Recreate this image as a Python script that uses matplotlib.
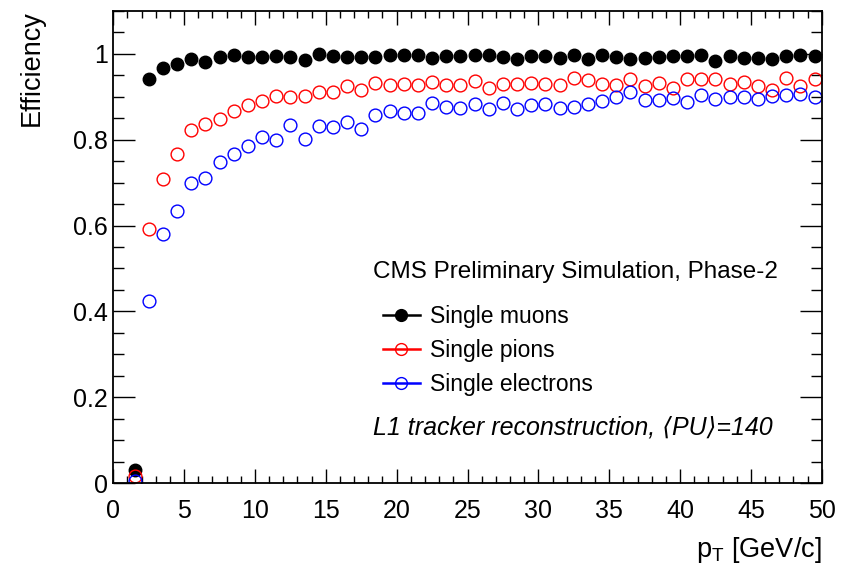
import numpy as np
import matplotlib
matplotlib.use('Agg')
import matplotlib.pyplot as plt
from matplotlib.lines import Line2D
from matplotlib.ticker import MultipleLocator

plt.rcParams['font.family'] = ['Liberation Sans', 'DejaVu Sans']
plt.rcParams['mathtext.default'] = 'regular'

# bin centres in pT [GeV/c]
pt = np.arange(1.5, 50, 1.0)

eff_muons = [0.030, 0.940, 0.967, 0.977, 0.988, 0.981, 0.992, 0.996, 0.992, 0.992,
             0.994, 0.992, 0.986, 1.000, 0.994, 0.992, 0.992, 0.992, 0.998, 0.996,
             0.996, 0.991, 0.994, 0.994, 0.996, 0.998, 0.992, 0.988, 0.994, 0.994,
             0.989, 0.996, 0.988, 0.996, 0.992, 0.988, 0.991, 0.992, 0.994, 0.994,
             0.996, 0.983, 0.994, 0.991, 0.991, 0.988, 0.994, 0.996, 0.994]
eff_pions = [0.018, 0.593, 0.708, 0.766, 0.822, 0.837, 0.847, 0.866, 0.880, 0.890,
             0.901, 0.898, 0.902, 0.910, 0.911, 0.925, 0.915, 0.932, 0.926, 0.929,
             0.926, 0.934, 0.928, 0.926, 0.936, 0.921, 0.929, 0.929, 0.932, 0.929,
             0.926, 0.944, 0.938, 0.929, 0.926, 0.940, 0.924, 0.932, 0.921, 0.941,
             0.941, 0.940, 0.930, 0.933, 0.924, 0.916, 0.943, 0.924, 0.940]
eff_electrons = [0.006, 0.425, 0.580, 0.634, 0.698, 0.710, 0.747, 0.766, 0.784, 0.806,
                 0.800, 0.835, 0.802, 0.831, 0.829, 0.841, 0.824, 0.857, 0.866, 0.861,
                 0.862, 0.885, 0.876, 0.874, 0.882, 0.872, 0.885, 0.872, 0.880, 0.882,
                 0.874, 0.876, 0.884, 0.890, 0.898, 0.911, 0.893, 0.891, 0.897, 0.888,
                 0.903, 0.894, 0.899, 0.898, 0.894, 0.902, 0.903, 0.905, 0.899]

labels = ['Single muons', 'Single pions', 'Single electrons']

W, H = 848, 570
fig = plt.figure(figsize=(W / 100, H / 100), dpi=100)
ax = fig.add_axes([113.3 / W, 1 - 483.3 / H, (821.7 - 113.3) / W, (483.3 - 10.7) / H])

ax.plot(pt, eff_muons, 'o', color='black', ms=9, mew=1.0)
ax.plot(pt, eff_pions, 'o', mfc='none', mec='red', ms=9.2, mew=1.0)
ax.plot(pt, eff_electrons, 'o', mfc='none', mec='blue', ms=9.2, mew=1.0)

ax.set_xlim(0, 50)
ax.set_ylim(0, 1.1)
ax.xaxis.set_major_locator(MultipleLocator(5))
ax.xaxis.set_minor_locator(MultipleLocator(1))
ax.yaxis.set_major_locator(MultipleLocator(0.2))
ax.yaxis.set_minor_locator(MultipleLocator(0.05))
ax.set_yticks([0, 0.2, 0.4, 0.6, 0.8, 1.0])
ax.set_yticklabels(['0', '0.2', '0.4', '0.6', '0.8', '1'])

ax.tick_params(axis='both', which='both', direction='in', top=True, right=True,
               labelsize=18, width=1.0)
ax.tick_params(axis='x', which='major', length=10, pad=11)
ax.tick_params(axis='x', which='minor', length=5)
ax.tick_params(axis='y', which='major', length=16, pad=4)
ax.tick_params(axis='y', which='minor', length=8)
for s in ax.spines.values():
    s.set_linewidth(1.3)

fig.text(19 / W, 1 - 10 / H, 'Efficiency', rotation=90, ha='left', va='top', fontsize=19.5)
fig.text(822 / W, 1 - 565 / H, r'p$_{T}$ [GeV/c]', ha='right', va='bottom', fontsize=19.5)

fig.text(373 / W, 1 - 272 / H, 'CMS Preliminary Simulation, Phase-2', ha='left',
         va='center', fontsize=17.5)
fig.text(373 / W, 1 - 427 / H, 'L1 tracker reconstruction, \u27e8PU\u27e9=140', ha='left',
         va='center', fontsize=18, style='italic')

handles = [
    Line2D([], [], color='black', marker='o', ms=8.5, lw=1.8),
    Line2D([], [], color='red', marker='o', mfc='none', ms=8.5, lw=1.8),
    Line2D([], [], color='blue', marker='o', mfc='none', ms=8.5, lw=1.8),
]
fig.legend(handles, labels, loc='upper left', bbox_to_anchor=(383 / W, 1 - 305 / H),
           frameon=False, fontsize=16.5, handlelength=1.6, handletextpad=0.45,
           labelspacing=0.48, borderpad=0, borderaxespad=0)

fig.savefig('out.png', dpi=100)
